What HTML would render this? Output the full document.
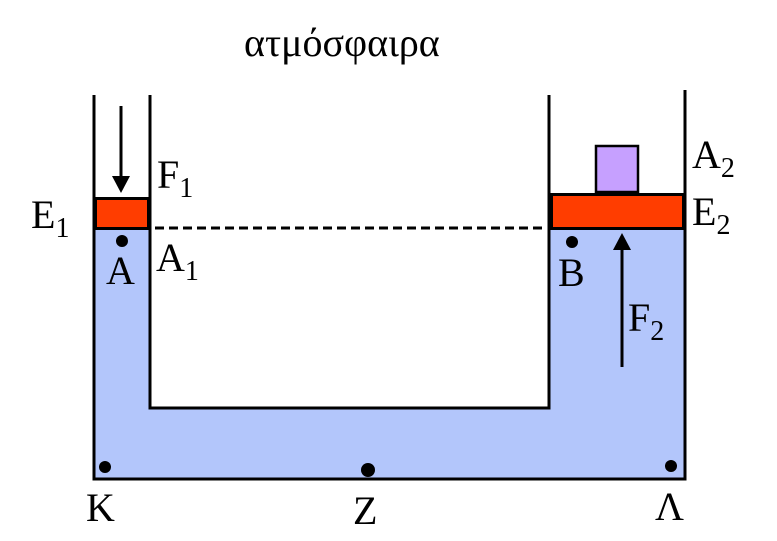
<!DOCTYPE html>
<html><head><meta charset="utf-8"><style>body{margin:0;background:#fff}</style></head><body>
<svg width="777" height="536" xmlns="http://www.w3.org/2000/svg" font-family="'Liberation Serif', 'DejaVu Serif', serif" fill="#000">
<rect width="777" height="536" fill="#fff"/>
<path d="M95 229 H150 V408 H549 V229 H685 V478 H95 Z" fill="#b3c6fb"/>
<g stroke="#000" stroke-width="3" fill="none">
<path d="M94 95 V479 H685 V90"/>
<path d="M150 95 V408 H549 V95"/>
</g>
<rect x="95.5" y="198.5" width="53" height="30" fill="#ff3d00" stroke="#000" stroke-width="3"/>
<rect x="551.5" y="194.5" width="132" height="34" fill="#ff3d00" stroke="#000" stroke-width="3"/>
<rect x="596" y="146" width="42" height="46" fill="#c6a0ff" stroke="#000" stroke-width="2.5"/>
<line x1="155" y1="228" x2="545" y2="228" stroke="#000" stroke-width="3" stroke-dasharray="9,5"/>
<line x1="121" y1="106" x2="121" y2="180" stroke="#000" stroke-width="3"/>
<path d="M112 176 L130 176 L121 193 Z"/>
<line x1="622" y1="367" x2="622" y2="246" stroke="#000" stroke-width="3"/>
<path d="M613 250 L631 250 L622 233 Z"/>
<circle cx="122" cy="241" r="6"/><circle cx="572" cy="242" r="6"/>
<circle cx="105" cy="467" r="6"/><circle cx="368" cy="470" r="7"/><circle cx="671" cy="466" r="6"/>
<g font-size="40">
<text x="244" y="56">ατμόσφαιρα</text>
<text x="157" y="188">F<tspan font-size="28" dy="9">1</tspan></text>
<text x="31" y="228">E<tspan font-size="28" dy="9">1</tspan></text>
<text x="106" y="284">A</text>
<text x="156" y="271">A<tspan font-size="28" dy="9">1</tspan></text>
<text x="558" y="286">B</text>
<text x="628" y="331">F<tspan font-size="28" dy="9">2</tspan></text>
<text x="692" y="168">A<tspan font-size="28" dy="9">2</tspan></text>
<text x="692" y="225">E<tspan font-size="28" dy="9">2</tspan></text>
<text x="86" y="521">K</text>
<text x="353" y="524">Z</text>
<text x="655" y="520">Λ</text>
</g>
</svg>
</body></html>
